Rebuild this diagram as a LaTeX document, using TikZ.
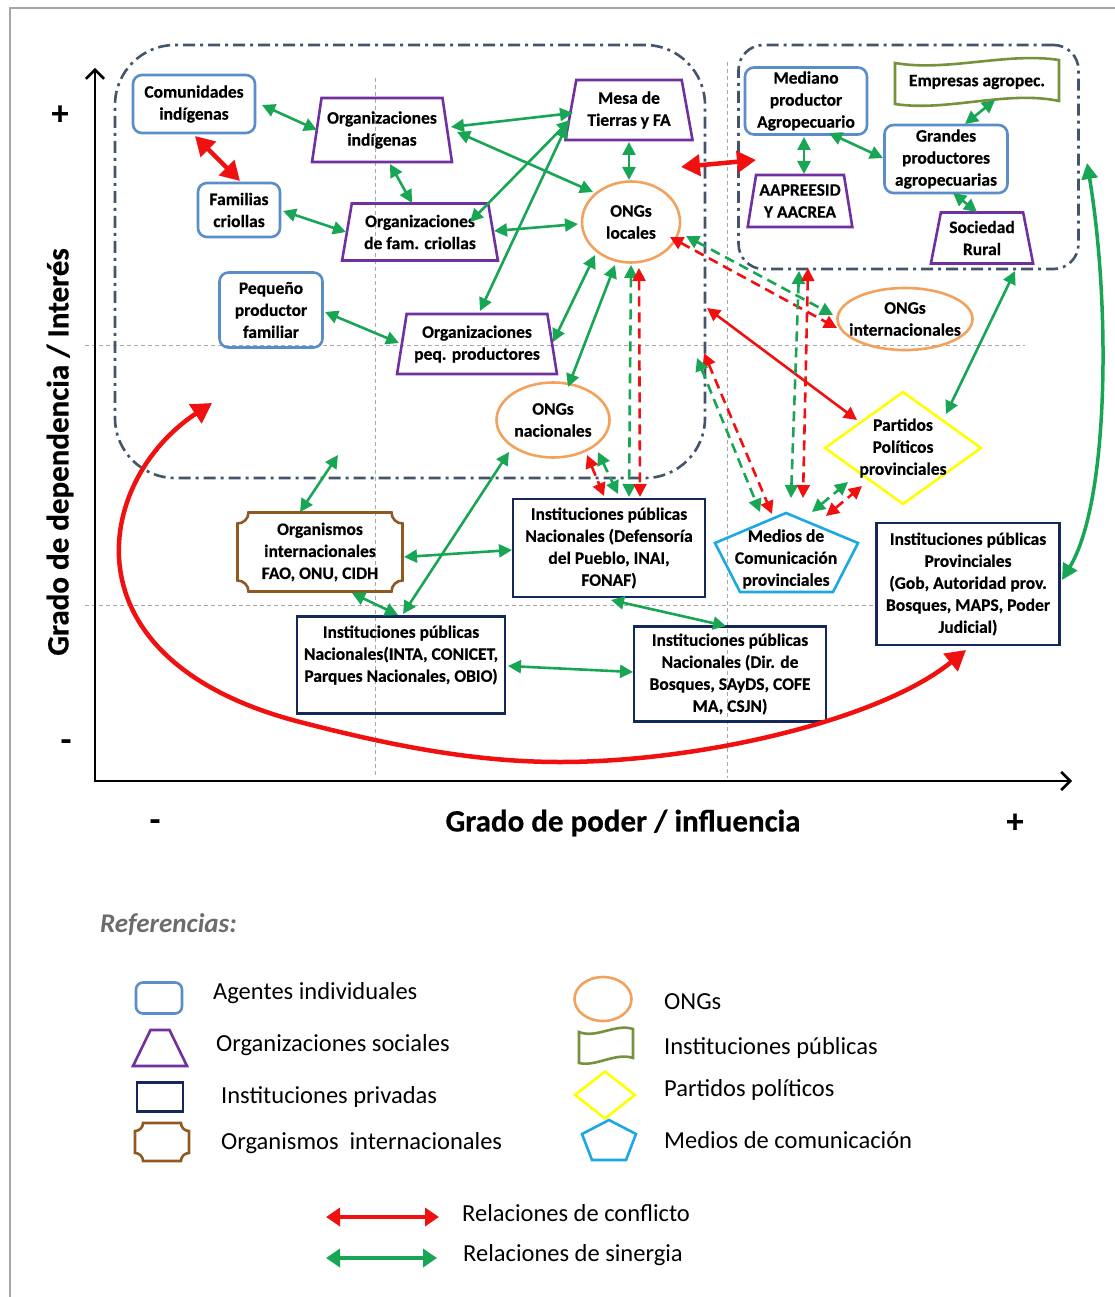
\documentclass[tikz,border=0pt]{standalone}
\usepackage{fontspec}
\setmainfont{Carlito}[BoldFeatures={FakeBold=0.5}]
\usetikzlibrary{arrows.meta,shapes.geometric,calc}
\definecolor{cblue}{HTML}{5B8DC8}
\definecolor{cpurple}{HTML}{7030A0}
\definecolor{cnavy}{HTML}{14285A}
\definecolor{cbrown}{HTML}{8E5A22}
\definecolor{corange}{HTML}{F2A25C}
\definecolor{colive}{HTML}{76923C}
\definecolor{cyellow}{HTML}{FFFF00}
\definecolor{ccyan}{HTML}{1CA8E3}
\definecolor{cred}{HTML}{F01010}
\definecolor{cgreen}{HTML}{18A655}
\definecolor{creg}{HTML}{44546A}
\definecolor{cgrid}{HTML}{A8A8A8}
\begin{document}
\begin{tikzpicture}[x=1pt,y=-1pt,
  ntext/.style={font=\fontsize{17.5}{22}\selectfont\bfseries, align=center},
  indiv/.style={ntext, draw=cblue, line width=2.6pt, rounded corners=9pt, inner sep=0pt},
  orgsoc/.style={ntext, trapezium, draw=cpurple, line width=2.6pt, trapezium left angle=77, trapezium right angle=77, trapezium stretches=true, inner sep=0pt},
  ong/.style={ntext, ellipse, draw=corange, line width=2.6pt, inner sep=-12pt},
  inst/.style={ntext, draw=cnavy, line width=2.6pt, inner sep=0pt},
  party/.style={ntext, diamond, draw=cyellow, line width=2.6pt, inner sep=-25pt},
  plain/.style={ntext, inner sep=0pt},
  pent/.style={draw=ccyan, line width=2.6pt, line join=miter},
  wavy/.style={draw=colive, line width=2.6pt},
  plaque/.style={draw=cbrown, line width=2.6pt},
  region/.style={draw=creg, line width=2.6pt, dash pattern=on 12pt off 5pt on 3pt off 5pt},
  grid/.style={draw=cgrid, line width=0.8pt, dash pattern=on 4pt off 3pt},
  syn/.style={draw=cgreen, line width=2.6pt, arrows={Triangle[length=13pt,width=13pt]-Triangle[length=13pt,width=13pt]}},
  con/.style={draw=cred, line width=2.6pt, arrows={Triangle[length=13pt,width=13pt]-Triangle[length=13pt,width=13pt]}},
  heavy/.style={line width=4.5pt, arrows={Triangle[length=19pt,width=21pt]-Triangle[length=19pt,width=21pt]}},
  dsh/.style={dash pattern=on 10pt off 6pt},
  axislbl/.style={font=\fontsize{31}{32}\selectfont\bfseries},
  sign/.style={font=\fontsize{34}{34}\selectfont\bfseries},
  legtxt/.style={font=\fontsize{24.5}{28}\selectfont, anchor=west, inner sep=0pt}
]
\useasboundingbox (0,0) rectangle (1115,1297);
\fill[white] (0,0) rectangle (1115,1297);
% frame
\draw[draw=gray!70, line width=1.5pt] (10,1297) -- (10,8) -- (1115,8);

% grid
\draw[grid] (375,78) -- (375,778);
\draw[grid] (727,62) -- (727,778);
\draw[grid] (85,345) -- (1025,345);
\draw[grid] (85,605) -- (878,605);

% regions
\node[region, rounded corners=60pt, minimum width=590pt, minimum height=433pt] (leftreg) at (410,261.5) {};
\node[region, rounded corners=25pt, minimum width=340pt, minimum height=224pt] (rightreg) at (908.5,157) {};

% axes
\coordinate (ytip) at (95,68);
\coordinate (orig) at (95,781);
\coordinate (xtip) at (1072,781);
\draw[line width=2.6pt, line join=miter, arrows={Straight Barb[length=9pt,width=18pt]-Straight Barb[length=9pt,width=18pt]}] (ytip) -- (orig) -- (xtip);
\node[sign] (yplus) at (60,115) {+};
\node[sign] (yminus) at (66,745) {-};
\node[sign] (xminus) at (155,825) {-};
\node[sign] (xplus) at (1015,823) {+};
\node[axislbl] (xlabel) at (623,823) {Grado de poder / influencia};
\node[axislbl, rotate=90] (ylabel) at (60,452) {Grado de dependencia / Interés};

% nodes
\node[indiv, minimum width=122pt, minimum height=58pt] (com) at (194,104) {Comunidades\\indígenas};
\node[indiv, minimum width=82pt, minimum height=54pt] (fam) at (239,210) {Familias\\criollas};
\node[indiv, minimum width=103pt, minimum height=75pt] (peq) at (271,310) {Pequeño\\productor\\familiar};
\node[orgsoc, minimum width=140pt, minimum height=64pt] (orgind) at (382,130) {Organizaciones\\indígenas};
\node[orgsoc, minimum width=156pt, minimum height=57pt] (orgfam) at (420,232) {Organizaciones\\de fam. criollas};
\node[orgsoc, minimum width=160pt, minimum height=60pt] (orgpeq) at (477,344) {Organizaciones\\peq. productores};
\node[orgsoc, minimum width=128pt, minimum height=60pt] (mesa) at (629,110) {Mesa de\\Tierras y FA};
\node[ong, minimum width=98pt, minimum height=81pt] (onglocal) at (631,222) {ONGs\\locales};
\node[ong, minimum width=113pt, minimum height=75pt] (ongnac) at (553,420) {ONGs\\nacionales};
\node[indiv, minimum width=122pt, minimum height=67pt] (mediano) at (806,101) {Mediano\\productor\\Agropecuario};
\node[plain, minimum width=165pt, minimum height=47pt] (empresas) at (977,82) {Empresas agropec.};
\draw[wavy, shift={(empresas.center)}] (-82,-19) .. controls (-30,-10) and (30,-30) .. (82,-22) -- (82,19) .. controls (30,8) and (-30,30) .. (-82,22) -- cycle;
\node[indiv, minimum width=123pt, minimum height=68pt] (grandes) at (946,159) {Grandes\\productores\\agropecuarias};
\node[orgsoc, minimum width=105pt, minimum height=52pt] (aapre) at (800,201) {AAPREESID\\Y AACREA};
\node[orgsoc, minimum width=103pt, minimum height=51pt] (sociedad) at (982,238) {Sociedad\\Rural};
\node[ong, minimum width=135pt, minimum height=62pt] (ongint) at (905,319) {ONGs\\internacionales};
\node[party, minimum width=157pt, minimum height=113pt] (partidos) at (903,448) {Partidos\\Políticos\\provinciales};
\node[plain, minimum width=143pt, minimum height=79pt] (medios) at (786,552) {};
\draw[pent, shift={(medios.center)}] (0,-39) -- (72,-9) -- (47,40) -- (-46,40) -- (-71,-9) -- cycle;
\node[ntext] (mediosT) at ($(medios)+(0,7)$) {Medios de\\Comunicación\\provinciales};
\node[inst, minimum width=183pt, minimum height=122pt] (prov) at (968,584) {Instituciones públicas\\Provinciales\\(Gob, Autoridad prov.\\Bosques, MAPS, Poder\\Judicial)};
\node[inst, minimum width=192pt, minimum height=98pt] (defens) at (609,548) {Instituciones públicas\\Nacionales (Defensoría\\del Pueblo, INAI,\\FONAF)};
\node[inst, minimum width=192pt, minimum height=95pt] (dirbos) at (730,674) {Instituciones públicas\\Nacionales (Dir. de\\Bosques, SAyDS, COFE\\MA, CSJN)};
\node[inst, minimum width=208pt, minimum height=97pt] (inta) at (401,665) {};
\node[ntext] (intaT) at ($(inta)+(0,-10)$) {Instituciones públicas\\Nacionales(INTA, CONICET,\\Parques Nacionales, OBIO)};
\node[plain, minimum width=165pt, minimum height=79pt] (orgint) at (320,552) {Organismos\\internacionales\\FAO, ONU, CIDH};
\draw[plaque, shift={(orgint.center)}] (-71.5,-39.5) -- (71.5,-39.5) arc[start angle=180, end angle=90, radius=11] -- (82.5,28.5) arc[start angle=270, end angle=180, radius=11] -- (-71.5,39.5) arc[start angle=0, end angle=-90, radius=11] -- (-82.5,-28.5) arc[start angle=90, end angle=0, radius=11] -- cycle;

% green synergy connectors
\draw[syn] ($(com)+(68,1)$) -- ($(orgind)+(-65,0)$);
\draw[syn] ($(orgind)+(8,34)$) -- ($(orgfam)+(-8,-29)$);
\draw[syn] ($(fam)+(44,1)$) -- ($(orgfam)+(-74,0)$);
\draw[syn] ($(peq)+(54,2)$) -- ($(orgpeq)+(-78,-1)$);
\draw[syn] ($(orgind)+(69,-3)$) -- ($(mesa)+(-56,3)$);
\draw[syn] ($(orgind)+(75,2)$) -- ($(onglocal)+(-38,-30)$);
\draw[syn] ($(mesa)+(-59,10)$) -- ($(orgfam)+(50,-10)$);
\draw[syn] ($(mesa)+(-62,15)$) -- ($(orgpeq)+(3,-33)$);
\draw[syn] ($(orgfam)+(74,-1)$) -- ($(onglocal)+(-53,2)$);
\draw[syn] ($(mesa)+(0,32)$) -- ($(onglocal)+(-2,-42)$);
\draw[syn] ($(onglocal)+(-36,33)$) -- ($(orgpeq)+(76,-2)$);
\draw[syn] ($(onglocal)+(-16,43)$) -- ($(ongnac)+(15,-33)$);
\draw[syn] ($(mediano)+(-2,36)$) -- ($(aapre)+(4,-27)$);
\draw[syn] ($(mediano)+(23,32)$) -- ($(grandes)+(-63,-1)$);
\draw[syn] ($(grandes)+(19,-35)$) -- ($(empresas)+(18,18)$);
\draw[syn] ($(grandes)+(7,34)$) -- ($(sociedad)+(-5,-26)$);
\draw[syn] ($(partidos)+(43,-34)$) -- ($(rightreg)+(106.5,114)$);
\draw[syn, line width=3.5pt, arrows={Triangle[length=16pt,width=16pt]-Triangle[length=16pt,width=16pt]}] ($(rightreg)+(178.5,6)$) .. controls (1110,300) and (1110,500) .. ($(prov)+(94,-4)$);
\draw[syn] ($(ongnac)+(-44,32)$) -- ($(inta)+(2,-51)$);
\draw[syn] ($(orgint)+(-20,-40)$) -- ($(leftreg)+(-72,193.5)$);
\draw[syn] ($(orgint)+(84,5)$) -- ($(defens)+(-97,2)$);
\draw[syn] ($(orgint)+(32,41)$) -- ($(inta)+(-3,-50)$);
\draw[syn] ($(inta)+(107,1)$) -- ($(dirbos)+(-97,-2)$);
\draw[syn] ($(defens)+(2,52)$) -- ($(dirbos)+(-4,-48)$);

% red conflict connectors
\draw[con, heavy] ($(com)+(1,32)$) -- ($(fam)+(1,-29)$);
\draw[con, heavy] ($(leftreg)+(271,-94.5)$) -- ($(rightreg)+(-152.5,3)$);
\draw[con] ($(leftreg)+(297,46.5)$) -- ($(partidos)+(-46,-28)$);
\coordinate (r4a) at (300,722);
\coordinate (r4b) at (560,762);
\draw[con, line width=4.5pt, arrows={Triangle[length=20pt,width=22pt]-Triangle[length=20pt,width=22pt]}] ($(leftreg)+(-198,141.5)$) .. controls (95,480) and (60,660) .. (r4a) .. controls (400,748) and (480,762) .. (r4b) .. controls (700,762) and (880,720) .. ($(prov)+(-2,66)$);

% dashed pairs
\draw[syn, dsh] ($(onglocal)+(55,14)$) -- ($(ongint)+(-72,-4)$);
\draw[con, dsh] ($(onglocal)+(39,15)$) -- ($(ongint)+(-68,9)$);
\draw[syn, dsh] ($(onglocal)+(0,43)$) -- ($(defens)+(20,-51)$);
\draw[con, dsh] ($(onglocal)+(8,46)$) -- ($(defens)+(31,-51)$);
\draw[con, dsh] ($(ongnac)+(34,35)$) -- ($(defens)+(-5,-52)$);
\draw[syn, dsh] ($(ongnac)+(45,32)$) -- ($(defens)+(9,-54)$);
\draw[con, dsh] ($(leftreg)+(294,91.5)$) -- ($(medios)+(-14,-38)$);
\draw[syn, dsh] ($(leftreg)+(287,96.5)$) -- ($(medios)+(-26,-40)$);
\draw[syn, dsh] ($(rightreg)+(-109.5,114)$) -- ($(medios)+(5,-54)$);
\draw[con, dsh] ($(rightreg)+(-100.5,111)$) -- ($(medios)+(17,-54)$);
\draw[syn, dsh] ($(medios)+(26,-40)$) -- ($(partidos)+(-55,34)$);
\draw[con, dsh] ($(medios)+(40,-36)$) -- ($(partidos)+(-41,38)$);

% legend
\node[font=\fontsize{27}{30}\selectfont\bfseries\itshape, text=gray!85!black, anchor=west, inner sep=0pt] (refs) at (100,925) {Referencias:};
\node[draw=cblue, line width=2.6pt, rounded corners=7pt, minimum width=46pt, minimum height=31pt, inner sep=0pt] (legind) at (159,998) {};
\node[legtxt] (legindT) at (213,993) {Agentes individuales};
\node[trapezium, draw=cpurple, line width=2.6pt, trapezium left angle=77, trapezium right angle=77, trapezium stretches=true, minimum width=54pt, minimum height=36pt, inner sep=2pt] (legorg) at (160,1048) {\strut};
\node[legtxt] (legorgT) at (216,1045) {Organizaciones sociales};
\node[draw=cnavy, line width=2.6pt, minimum width=46pt, minimum height=29pt, inner sep=0pt] (legpriv) at (160,1097) {};
\node[legtxt] (legprivT) at (221,1097) {Instituciones privadas};
\node[minimum width=54pt, minimum height=38pt, inner sep=0pt] (legint) at (162,1142) {};
\draw[plaque, shift={(legint.center)}] (-19,-19) -- (19,-19) arc[start angle=180, end angle=90, radius=8] -- (27,11) arc[start angle=270, end angle=180, radius=8] -- (-19,19) arc[start angle=0, end angle=-90, radius=8] -- (-27,-11) arc[start angle=90, end angle=0, radius=8] -- cycle;
\node[legtxt] (legintT) at (221,1143) {Organismos~ internacionales};
\node[ellipse, draw=corange, line width=2.6pt, minimum width=57pt, minimum height=44pt, inner sep=0pt] (legong) at (603,999) {};
\node[legtxt] (legongT) at (664,1002) {ONGs};
\node[minimum width=55pt, minimum height=34pt, inner sep=0pt] (legpub) at (606,1046) {};
\draw[wavy, shift={(legpub.center)}] (-27,-14) .. controls (-10,-7) and (10,-23) .. (27,-17) -- (27,12) .. controls (10,6) and (-10,21) .. (-27,17) -- cycle;
\node[legtxt] (legpubT) at (664,1048) {Instituciones públicas};
\node[diamond, draw=cyellow, line width=2.6pt, minimum width=61pt, minimum height=48pt, inner sep=0pt] (legpart) at (605,1095) {};
\node[legtxt] (legpartT) at (664,1090) {Partidos políticos};
\node[minimum width=55pt, minimum height=40pt, inner sep=0pt] (legmed) at (609,1140) {};
\draw[pent, shift={(legmed.center)}] (0,-20) -- (27,-6) -- (17,20) -- (-17,20) -- (-27,-6) -- cycle;
\node[legtxt] (legmedT) at (664,1140) {Medios de comunicación};
\coordinate (lc1) at (326,1217);
\coordinate (lc2) at (439,1217);
\draw[con, line width=4pt, arrows={Triangle[length=14pt,width=18pt]-Triangle[length=14pt,width=18pt]}] (lc1) -- (lc2);
\node[legtxt] (lconT) at (462,1213) {Relaciones de conflicto};
\coordinate (ls1) at (326,1258);
\coordinate (ls2) at (437,1258);
\draw[syn, line width=4pt, arrows={Triangle[length=14pt,width=18pt]-Triangle[length=14pt,width=18pt]}] (ls1) -- (ls2);
\node[legtxt] (lsynT) at (463,1255) {Relaciones de sinergia};
\end{tikzpicture}
\end{document}
